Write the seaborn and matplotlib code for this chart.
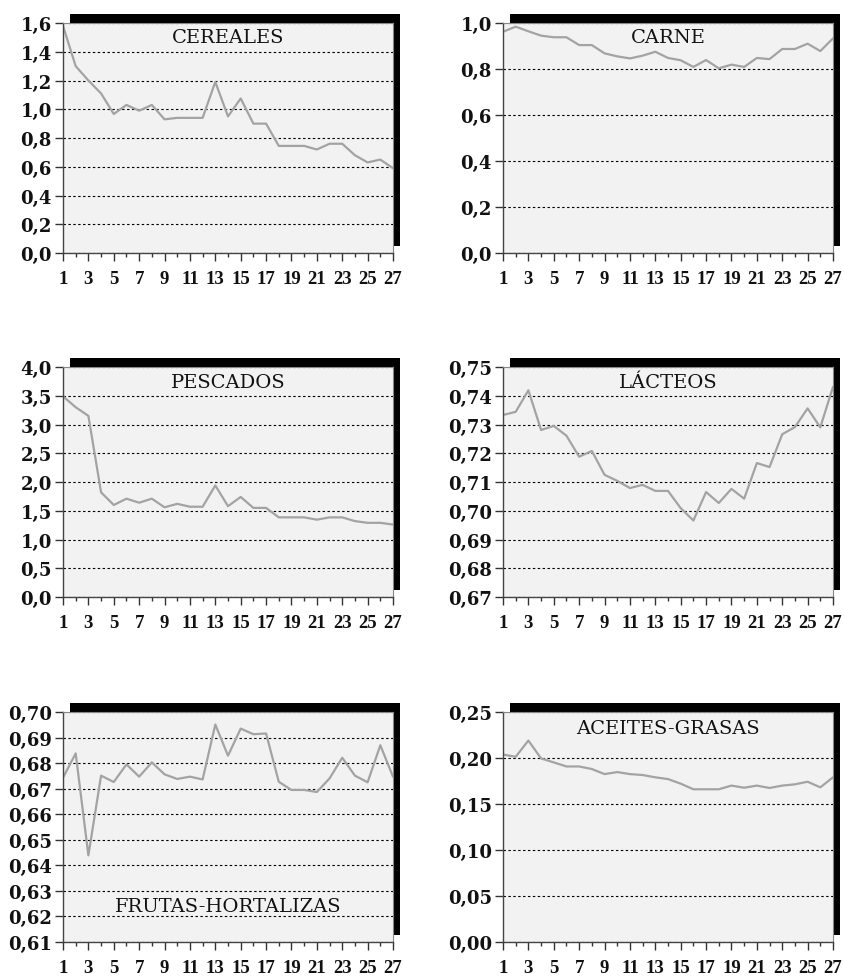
import numpy as np
import pandas as pd
import matplotlib
matplotlib.use("Agg")
import matplotlib.pyplot as plt
from matplotlib.patches import Rectangle
from matplotlib.ticker import FuncFormatter, MultipleLocator
import seaborn as sns

periods = list(range(1, 28))

cereales = [1.58, 1.30, 1.20, 1.11, 0.967, 1.03, 0.99, 1.03, 0.93, 0.94, 0.94, 0.94,
            1.19, 0.95, 1.075, 0.90, 0.90, 0.745, 0.745, 0.745, 0.72, 0.76, 0.76,
            0.68, 0.63, 0.65, 0.59]
carne = [0.962, 0.984, 0.964, 0.945, 0.938, 0.938, 0.904, 0.904, 0.868, 0.855, 0.846,
         0.858, 0.875, 0.848, 0.838, 0.809, 0.839, 0.803, 0.819, 0.809, 0.848, 0.843,
         0.887, 0.887, 0.910, 0.878, 0.933]
pescados = [3.49, 3.30, 3.15, 1.82, 1.60, 1.71, 1.64, 1.71, 1.56, 1.62, 1.57, 1.57,
            1.94, 1.58, 1.74, 1.55, 1.55, 1.385, 1.385, 1.385, 1.345, 1.385, 1.385,
            1.32, 1.29, 1.29, 1.26]
lacteos = [0.7333, 0.7344, 0.7419, 0.7281, 0.7295, 0.7261, 0.7188, 0.7208, 0.7125,
           0.7104, 0.7079, 0.7090, 0.7069, 0.7069, 0.7009, 0.6966, 0.7065, 0.7027,
           0.7076, 0.7042, 0.7166, 0.7152, 0.7266, 0.7291, 0.7356, 0.7290, 0.7431]
frutas = [0.6743, 0.6838, 0.6439, 0.6751, 0.6726, 0.6795, 0.6747, 0.6803, 0.6756,
          0.6738, 0.6747, 0.6736, 0.6951, 0.6829, 0.6935, 0.6913, 0.6916, 0.6727,
          0.6695, 0.6695, 0.6687, 0.6740, 0.6821, 0.6751, 0.6725, 0.6870, 0.6747]
aceites = [0.2038, 0.2013, 0.219, 0.1995, 0.1952, 0.1908, 0.1908, 0.188, 0.1825,
           0.1847, 0.1825, 0.1815, 0.179, 0.1771, 0.1721, 0.166, 0.166, 0.166, 0.170,
           0.1677, 0.170, 0.1674, 0.170, 0.1714, 0.1742, 0.1681, 0.179]

titles = ["CEREALES", "CARNE", "PESCADOS", "LÁCTEOS", "FRUTAS-HORTALIZAS", "ACEITES-GRASAS"]
series = [cereales, carne, pescados, lacteos, frutas, aceites]
ylims = [(0.0, 1.6), (0.0, 1.0), (0.0, 4.0), (0.67, 0.75), (0.61, 0.70), (0.0, 0.25)]
ysteps = [0.2, 0.2, 0.5, 0.01, 0.01, 0.05]
ydec = [1, 1, 1, 2, 2, 2]
title_pos = [0.94, 0.94, 0.935, 0.935, 0.157, 0.93]

sns.set_theme(style="white")
plt.rcParams['font.family'] = ['DejaVu Serif']

W, H = 844, 979
fig = plt.figure(figsize=(W / 100, H / 100), dpi=100)

lefts = [63, 503]
tops = [24, 368, 713]
aw, ah = 330, 230

for i, (title, vals) in enumerate(zip(titles, series)):
    r, c = divmod(i, 2)
    l = lefts[c]
    t = tops[r]
    rect = [l / W, (H - t - ah) / H, aw / W, ah / H]
    # shadow
    fig.patches.append(Rectangle(((l + 7) / W, (H - t - ah + 7) / H), aw / W, (ah + 2) / H,
                                 transform=fig.transFigure, facecolor='black',
                                 edgecolor='none', zorder=-1))
    ax = fig.add_axes(rect)
    ax.set_facecolor('#f2f2f2')
    df = pd.DataFrame({'periodo': periods, 'valor': vals})
    sns.lineplot(data=df, x='periodo', y='valor', ax=ax, color='#a3a3a3', lw=1.6)
    ax.set_xlim(1, 27)
    ax.set_ylim(*ylims[i])
    ax.yaxis.set_major_locator(MultipleLocator(ysteps[i]))
    d = ydec[i]
    ax.yaxis.set_major_formatter(FuncFormatter(lambda v, p, d=d: f"{v:.{d}f}".replace('.', ',')))
    ax.set_xticks(list(range(1, 28, 2)))
    ax.set_xticks(list(range(2, 27, 2)), minor=True)
    ax.set_xlabel('')
    ax.set_ylabel('')
    ax.grid(axis='y', color='black', linestyle=(0, (2.2, 2.2)), linewidth=0.8)
    ax.grid(axis='x', visible=False)
    for s in ['top', 'right']:
        ax.spines[s].set_color('#888888')
        ax.spines[s].set_linewidth(0.8)
    for s in ['left', 'bottom']:
        ax.spines[s].set_color('#444444')
        ax.spines[s].set_linewidth(1.0)
    ax.tick_params(axis='y', which='major', direction='out', length=6, width=1.0,
                   color='#333333', left=True, pad=2)
    ax.tick_params(axis='x', which='major', direction='out', length=6, width=1.0,
                   color='#333333', bottom=True, pad=6)
    ax.tick_params(axis='x', which='minor', direction='out', length=3, width=1.0,
                   color='#333333', bottom=True)
    for lab in ax.get_yticklabels():
        lab.set_fontsize(13)
        lab.set_fontweight('bold')
        lab.set_color('#111111')
    for lab in ax.get_xticklabels():
        lab.set_fontsize(13.5)
        lab.set_fontfamily('Liberation Serif')
        lab.set_fontweight('bold')
        lab.set_color('#111111')
    ax.text(0.5, title_pos[i], title, transform=ax.transAxes, ha='center', va='center',
            fontsize=14, color='#111111')

fig.savefig('out.png', dpi=100)
